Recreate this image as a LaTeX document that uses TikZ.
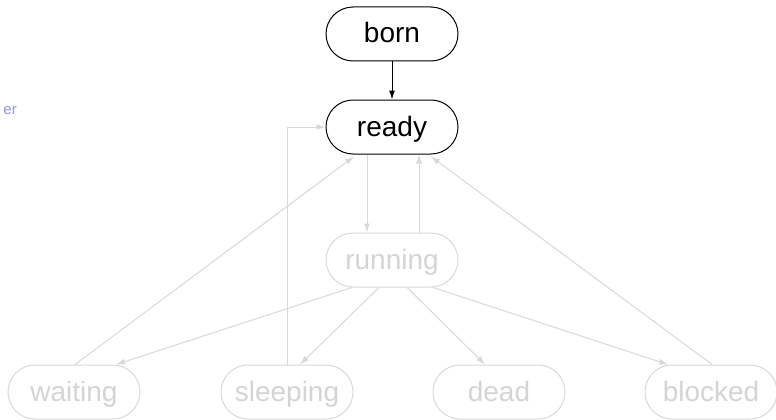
\documentclass[tikz,border=0pt]{standalone}
\usepackage{fontspec}
\setmainfont{Liberation Sans}
\usetikzlibrary{shapes.misc,arrows.meta}
\definecolor{faded}{RGB}{216,216,216}
\definecolor{fadedtext}{RGB}{212,212,212}
\definecolor{labelblue}{RGB}{150,150,228}
\tikzset{
  state/.style={rounded rectangle, draw, line width=1pt,
    minimum width=132pt, minimum height=54pt, inner sep=0pt,
    text height=22pt, text depth=4pt,
    font=\fontsize{28}{34}\selectfont},
  active/.style={state, draw=black, text=black},
  idle/.style={state, draw=faded, text=fadedtext},
  liveedge/.style={draw=black, line width=1pt,
    -{Latex[length=9pt,width=6pt]}},
  idleedge/.style={draw=faded, line width=1pt,
    -{Latex[length=9pt,width=6pt]}}
}
\begin{document}
\begin{tikzpicture}[x=1pt,y=-1pt]
\useasboundingbox (0,0) rectangle (776,420);

% states
\node[active] (born)     at (392,34)  {born};
\node[active] (ready)    at (392,127) {ready};
\node[idle]   (running)  at (392,260) {running};
\node[idle]   (waiting)  at (74,392)  {waiting};
\node[idle]   (sleeping) at (287,392) {sleeping};
\node[idle]   (dead)     at (499,392) {dead};
\node[idle]   (blocked)  at (711,392) {blocked};

% clipped side label
\node[anchor=base east, inner sep=0pt, text=labelblue,
      font=\fontsize{15}{18}\selectfont] (sidelabel) at (17,114) {er};

% transitions
\draw[liveedge] (born.south) -- (ready.north);
\draw[idleedge] ([xshift=-25pt]ready.south) -- ([xshift=-25pt]running.north);
\draw[idleedge] ([xshift=27pt]running.north) -- ([xshift=27pt]ready.south);

\draw[idleedge] ([xshift=1pt]waiting.north) -- ([xshift=-38pt,yshift=-2pt]ready.south);
\draw[idleedge] (sleeping.north) |- (ready.west);
\draw[idleedge] ([xshift=1pt]blocked.north) -- ([xshift=39pt,yshift=-2pt]ready.south);

\draw[idleedge] ([xshift=-40pt]running.south) -- ([xshift=42pt]waiting.north);
\draw[idleedge] ([xshift=-13pt]running.south) -- ([xshift=13pt]sleeping.north);
\draw[idleedge] ([xshift=15pt]running.south) -- ([xshift=-14pt]dead.north);
\draw[idleedge] ([xshift=41pt]running.south) -- ([xshift=-43pt]blocked.north);
\end{tikzpicture}
\end{document}
